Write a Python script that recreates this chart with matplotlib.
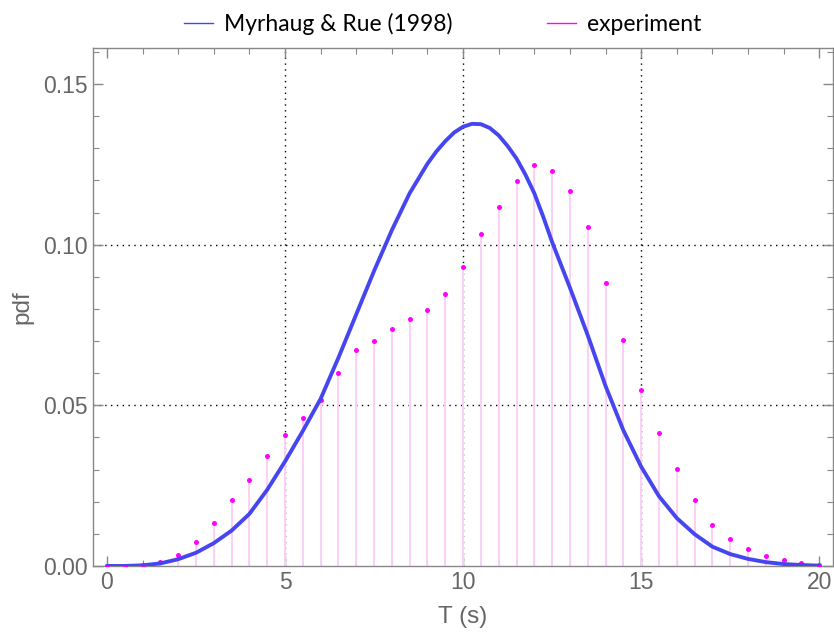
import matplotlib
matplotlib.use("Agg")
import matplotlib.pyplot as plt
from matplotlib.lines import Line2D
from matplotlib.ticker import MultipleLocator

# experiment: pdf values at T = 0, 0.5, ..., 20 s
t_exp = [0.0, 0.5, 1.0, 1.5, 2.0, 2.5, 3.0, 3.5, 4.0, 4.5,
         5.0, 5.5, 6.0, 6.5, 7.0, 7.5, 8.0, 8.5, 9.0, 9.5,
         10.0, 10.5, 11.0, 11.5, 12.0, 12.5, 13.0, 13.5, 14.0, 14.5,
         15.0, 15.5, 16.0, 16.5, 17.0, 17.5, 18.0, 18.5, 19.0, 19.5, 20.0]
pdf_exp = [0.0, 0.0, 0.0003, 0.0013, 0.0035, 0.0076, 0.0133, 0.0205, 0.0267, 0.0343,
           0.0409, 0.0459, 0.0516, 0.0601, 0.0673, 0.0699, 0.0739, 0.0770, 0.0797, 0.0846,
           0.0931, 0.1033, 0.1118, 0.1198, 0.1248, 0.1229, 0.1167, 0.1055, 0.0881, 0.0704,
           0.0548, 0.0413, 0.0302, 0.0205, 0.0129, 0.0084, 0.0053, 0.0031, 0.0018, 0.0008, 0.0002]

# Myrhaug & Rue (1998) curve
t_mr = [0.0, 0.5, 1.0, 1.5, 2.0, 2.5, 3.0, 3.5, 4.0, 4.5,
        5.0, 5.5, 6.0, 6.5, 7.0, 7.5, 8.0, 8.5, 9.0, 9.25, 9.5, 9.75,
        10.0, 10.25, 10.5, 10.75, 11.0, 11.25, 11.5, 11.75, 12.0, 12.25, 12.5, 13.0, 13.5, 14.0, 14.5,
        15.0, 15.5, 16.0, 16.5, 17.0, 17.5, 18.0, 18.5, 19.0, 19.5, 20.0]
pdf_mr = [0.0, 0.0, 0.0002, 0.0008, 0.0021, 0.0041, 0.0071, 0.0110, 0.0162, 0.0237,
          0.0325, 0.0420, 0.0520, 0.0648, 0.0783, 0.0918, 0.1045, 0.1160, 0.1252, 0.1290, 0.1322, 0.1349,
          0.1367, 0.1376, 0.1375, 0.1363, 0.1340, 0.1307, 0.1268, 0.1218, 0.1160, 0.1087, 0.1008, 0.0866, 0.0718, 0.0560, 0.0422,
          0.0309, 0.0217, 0.0149, 0.0099, 0.0060, 0.0037, 0.0022, 0.0012, 0.0006, 0.0003, 0.0001]

blue = "#4646f0"
magenta = "#ff00ff"
stem_col = "#ffcff7"
gray = "#666666"

fig = plt.figure(figsize=(8.34, 6.35), dpi=100)
ax = fig.add_axes([0.1115, 0.1087, 0.8875, 0.8157])

# stems + points
ax.vlines(t_exp, 0, pdf_exp, color=stem_col, lw=1.4, zorder=2)
ax.plot(t_exp, pdf_exp, "o", color=magenta, ms=3.6, mec="none", zorder=3)
ax.plot(t_mr, pdf_mr, color=blue, lw=2.8, zorder=4, solid_capstyle="round", solid_joinstyle="round")

# grid lines
for gx in [5, 10, 15]:
    ax.axvline(gx, color="black", ls=(0, (1, 3.2)), lw=1.0, zorder=1)
for gy in [0.05, 0.10]:
    ax.axhline(gy, color="black", ls=(0, (1, 3.2)), lw=1.0, zorder=1)

ax.set_xlim(-0.39, 20.39)
ax.set_ylim(0, 0.1612)
ax.xaxis.set_major_locator(MultipleLocator(5))
ax.xaxis.set_minor_locator(MultipleLocator(1))
ax.yaxis.set_minor_locator(MultipleLocator(0.01))
ax.set_yticks([0, 0.05, 0.10, 0.15])
ax.set_yticklabels(["0.00", "0.05", "0.10", "0.15"])
ax.tick_params(which="both", direction="in", top=True, right=True, colors="#888888",
               labelcolor=gray, labelsize=16.5, labelfontfamily="Liberation Sans")
ax.tick_params(which="major", length=7, width=1)
ax.tick_params(which="minor", length=4, width=0.8)
for s in ax.spines.values():
    s.set_color("#888888")
    s.set_linewidth(1.0)

ax.set_xlabel("T (s)", fontsize=17.5, color=gray, family="Liberation Sans", labelpad=9)
ax.set_ylabel("pdf", fontsize=17.5, color=gray, family="Liberation Sans", labelpad=7)

handles = [Line2D([], [], color=blue, lw=1.0), Line2D([], [], color=magenta, lw=1.0)]
fig.legend(handles, ["Myrhaug & Rue (1998)", "experiment"], loc="center",
           bbox_to_anchor=(0.531, 0.962), ncol=2, frameon=False, handlelength=1.25,
           handletextpad=0.5, columnspacing=4.1,
           prop={"family": "Lato", "size": 16.5})

fig.savefig("out.png", dpi=100)
